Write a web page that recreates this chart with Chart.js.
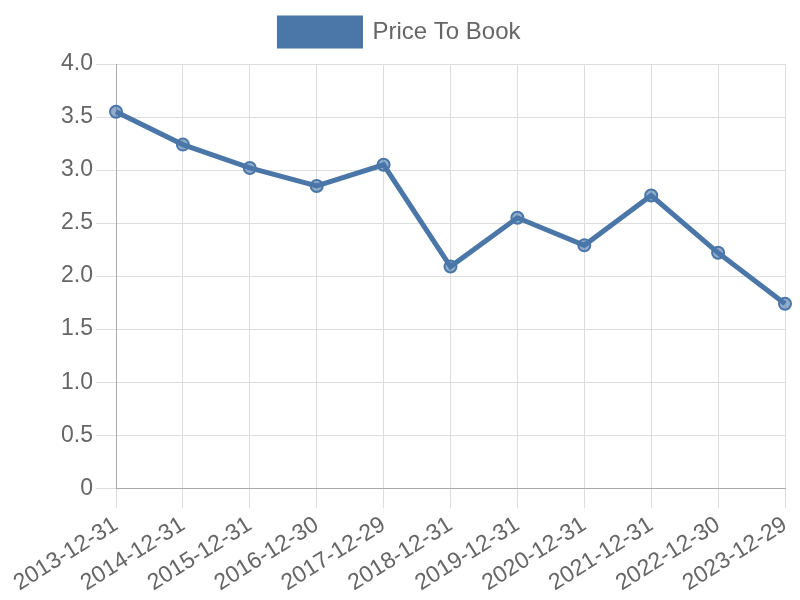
<!DOCTYPE html>
<html>
<head>
<meta charset="utf-8">
<script src="https://cdn.jsdelivr.net/npm/chart.js@4"></script>
<style>
  html, body { margin: 0; padding: 0; background: #ffffff; }
  #wrap { width: 800px; height: 600px; }
</style>
</head>
<body>
<div id="wrap"><canvas id="chart" width="800" height="600"></canvas></div>
<script>
// Dates and price-to-book values
const dates = ['2013-12-31', '2014-12-31', '2015-12-31', '2016-12-30', '2017-12-29', '2018-12-31',
    '2019-12-31', '2020-12-31', '2021-12-31', '2022-12-30', '2023-12-29'];
const priceToBook = [3.55, 3.24, 3.02, 2.85, 3.05, 2.09, 2.55, 2.29, 2.76, 2.22, 1.74];

Chart.defaults.font.family = '"Liberation Sans", Arial, sans-serif';
Chart.defaults.font.size = 22;
Chart.defaults.color = '#666666';

// extra space under the legend
const legendMargin = {
    id: 'legendMargin',
    beforeInit(chart) {
        const fit = chart.legend.fit;
        chart.legend.fit = function () {
            fit.bind(chart.legend)();
            this.height += 8;
        };
    }
};

new Chart(document.getElementById('chart'), {
    type: 'line',
    plugins: [legendMargin],
    data: {
        labels: dates,
        datasets: [
            {
                label: 'Price To Book',
                data: priceToBook,
                borderColor: '#4a76a8',
                backgroundColor: '#4a76a8',
                borderWidth: 5,
                pointRadius: 6,
                pointBorderWidth: 2,
                pointBackgroundColor: 'rgba(74, 118, 168, 0.6)',
                pointBorderColor: '#4a76a8',
                tension: 0,
                fill: false
            }
        ]
    },
    options: {
        responsive: false,
        animation: false,
        layout: { padding: { top: 4, right: 0 } },
        plugins: {
            legend: {
                display: true,
                labels: {
                    boxWidth: 81,
                    boxHeight: 28,
                    padding: 14,
                    color: '#666666',
                    font: { size: 24 }
                }
            },
            tooltip: { enabled: false }
        },
        scales: {
            x: {
                grid: { color: '#dddddd', tickLength: 20 },
                border: { color: '#aaaaaa' },
                ticks: { maxRotation: 32, minRotation: 32, color: '#666666', font: { size: 23 } },
                afterFit: scale => { scale.paddingRight = 15; }
            },
            y: {
                min: 0,
                max: 4,
                grid: { color: '#dddddd', tickLength: 20 },
                border: { color: '#aaaaaa' },
                ticks: { stepSize: 0.5, color: '#666666', font: { size: 23 } },
                afterFit: scale => { scale.width = 116; }
            }
        }
    }
});
</script>
</body>
</html>
